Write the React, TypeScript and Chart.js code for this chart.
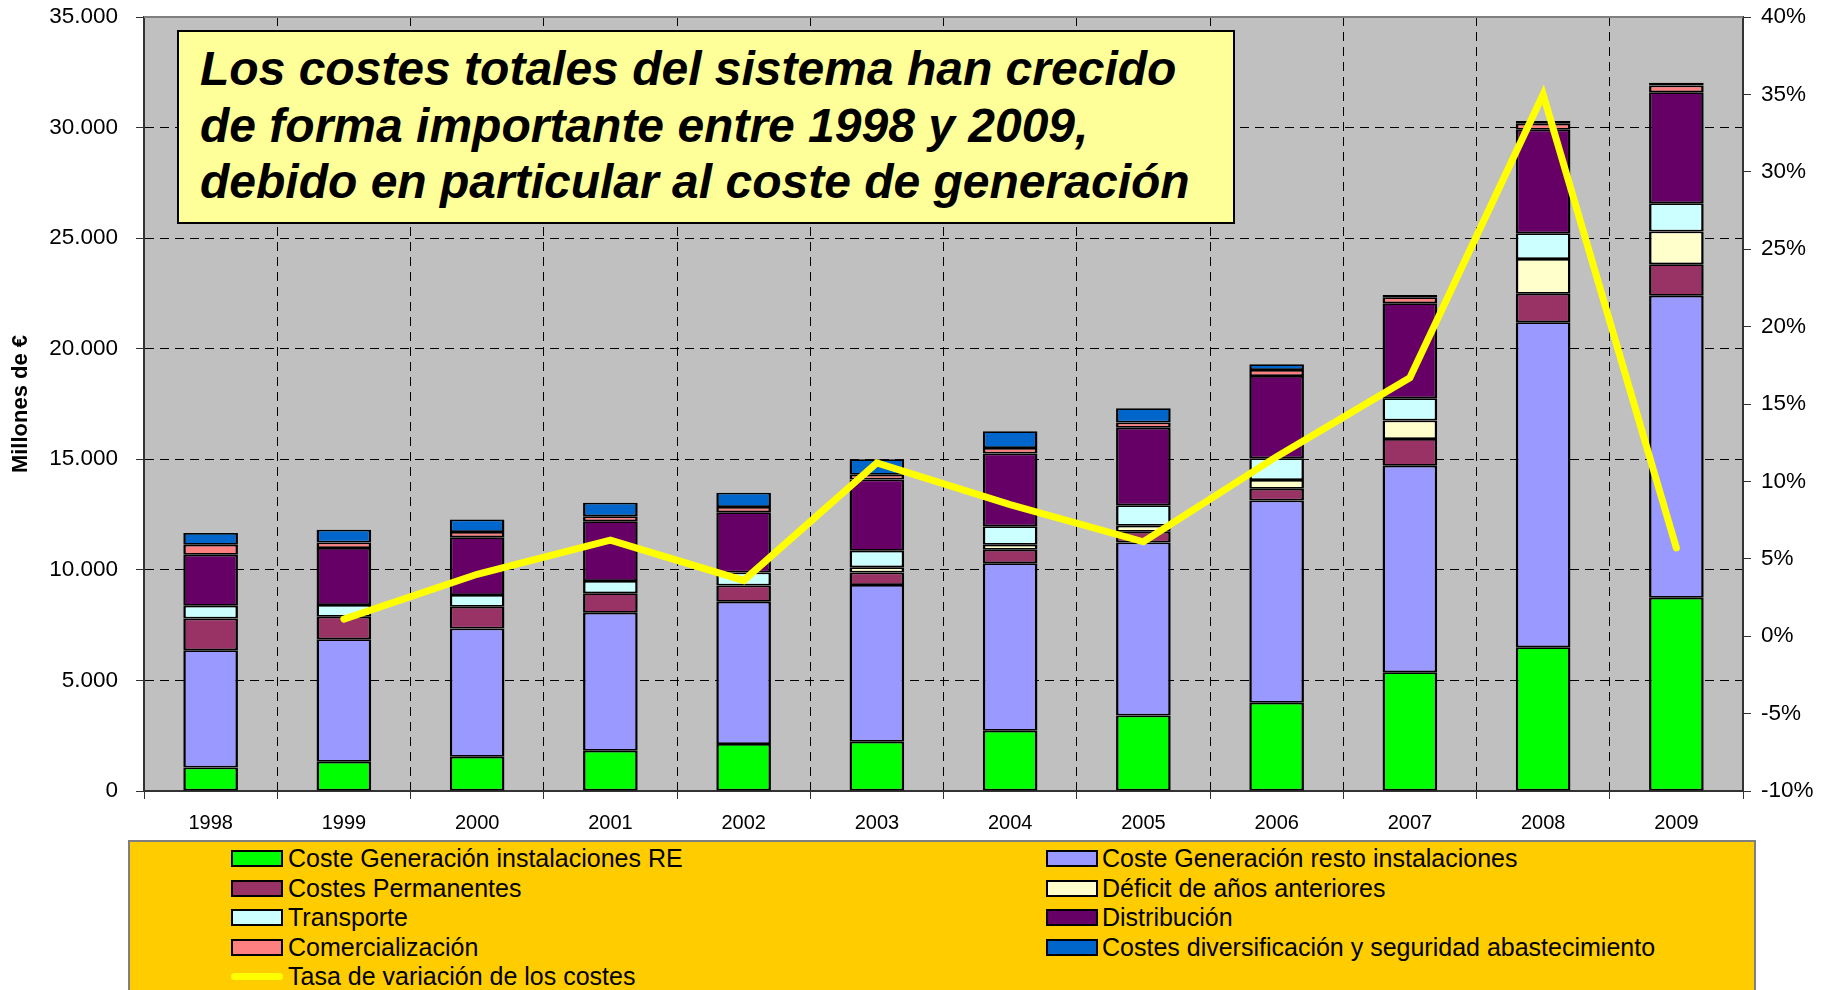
import React, { useEffect, useRef } from "react";
import { Chart, registerables } from "chart.js";

Chart.register(...registerables);

// ---------- data ----------
const YEARS = ["1998", "1999", "2000", "2001", "2002", "2003", "2004", "2005", "2006", "2007", "2008", "2009"];

const COSTE_GEN_RE = [1060, 1318, 1545, 1818, 2121, 2227, 2727, 3409, 3985, 5370, 6500, 8740];
const COSTE_GEN_RESTO = [5304, 5546, 5803, 6243, 6440, 7091, 7576, 7833, 9151, 9340, 14700, 13650];
const COSTES_PERMANENTES = [1439, 1015, 985, 878, 727, 561, 606, 485, 531, 1210, 1280, 1430];
const DEFICIT_ANTERIORES = [0, 0, 0, 0, 0, 242, 227, 273, 394, 830, 1580, 1480];
const TRANSPORTE = [576, 530, 531, 561, 591, 743, 834, 924, 984, 1010, 1160, 1280];
const DISTRIBUCION = [2303, 2576, 2606, 2697, 2727, 3227, 3288, 3500, 3725, 4300, 4680, 5020];
const COMERCIALIZACION = [454, 257, 242, 227, 242, 212, 257, 243, 270, 270, 270, 300];
const DIVERSIFICACION = [531, 576, 561, 606, 637, 697, 758, 636, 260, 100, 130, 130];
const TASA_VARIACION: (number | null)[] = [null, 1.1, 4.0, 6.2, 3.6, 11.2, 8.5, 6.1, 11.6, 16.7, 35.0, 5.7];

const LEFT_AXIS = { min: 0, max: 35000, step: 5000 };
const RIGHT_AXIS = { min: -10, max: 40, step: 5 };

const TITLE_LINES = [
  "Los costes totales del sistema han crecido",
  "de forma importante entre 1998 y 2009,",
  "debido en particular al coste de generación",
];

// ---------- styles ----------
const FONT = 'Arial, "Liberation Sans", sans-serif';

const BAR_SERIES = [
  { label: "Coste Generación instalaciones RE", data: COSTE_GEN_RE, color: "#00FF00" },
  { label: "Coste Generación resto instalaciones", data: COSTE_GEN_RESTO, color: "#9999FF" },
  { label: "Costes Permanentes", data: COSTES_PERMANENTES, color: "#993366" },
  { label: "Déficit de años anteriores", data: DEFICIT_ANTERIORES, color: "#FFFFCC" },
  { label: "Transporte", data: TRANSPORTE, color: "#CCFFFF" },
  { label: "Distribución", data: DISTRIBUCION, color: "#660066" },
  { label: "Comercialización", data: COMERCIALIZACION, color: "#FF8080" },
  { label: "Costes diversificación y seguridad abastecimiento", data: DIVERSIFICACION, color: "#0066CC" },
];
const LINE_LABEL = "Tasa de variación de los costes";
const LINE_COLOR = "#FFFF00";

// legend layout: [column, row, seriesIndex or -1 for line]
const LEGEND_LAYOUT: [number, number, number][] = [
  [0, 0, 0],
  [1, 0, 1],
  [0, 1, 2],
  [1, 1, 3],
  [0, 2, 4],
  [1, 2, 5],
  [0, 3, 6],
  [1, 3, 7],
  [0, 4, -1],
];

const fmtThousands = (v: number) => {
  const s = Math.round(v).toString();
  return s.replace(/\B(?=(\d{3})+(?!\d))/g, ".");
};

const plotDecor = {
  id: "plotDecor",
  beforeDraw(chart: any) {
    const { ctx, chartArea: a } = chart;
    ctx.save();
    ctx.fillStyle = "#C0C0C0";
    ctx.fillRect(a.left, a.top, a.right - a.left, a.bottom - a.top);
    ctx.restore();
  },
  beforeDatasetsDraw(chart: any) {
    const { ctx, chartArea: a } = chart;
    ctx.save();
    ctx.strokeStyle = "#808080";
    ctx.lineWidth = 2;
    ctx.beginPath();
    ctx.moveTo(a.left, a.top);
    ctx.lineTo(a.right, a.top);
    ctx.stroke();
    ctx.restore();
  },
};

export default function App() {
  const canvasRef = useRef<HTMLCanvasElement | null>(null);

  useEffect(() => {
    if (!canvasRef.current) return;
    const datasets: any[] = BAR_SERIES.map((s) => ({
      type: "bar",
      label: s.label,
      data: s.data,
      backgroundColor: s.color,
      borderColor: "#000000",
      borderWidth: { left: 2.5, right: 2.5, top: 1.75, bottom: 1.75 },
      borderSkipped: false,
      barPercentage: 0.41,
      categoryPercentage: 1.0,
      yAxisID: "y",
      order: 1,
    }));
    datasets.push({
      type: "line",
      label: LINE_LABEL,
      data: TASA_VARIACION,
      borderColor: LINE_COLOR,
      backgroundColor: LINE_COLOR,
      borderWidth: 7,
      borderCapStyle: "round",
      borderJoinStyle: "miter",
      pointRadius: 0,
      tension: 0,
      spanGaps: true,
      yAxisID: "y1",
      order: 0,
    });

    const chart = new Chart(canvasRef.current, {
      type: "bar",
      data: { labels: YEARS, datasets },
      plugins: [plotDecor],
      options: {
        animation: false,
        responsive: false,
        devicePixelRatio: 1,
        layout: { padding: { top: 17, left: 0, right: 0, bottom: 0 } },
        plugins: { legend: { display: false }, tooltip: { enabled: false } },
        scales: {
          x: {
            stacked: true,
            offset: true,
            grid: { offset: true, color: "#000000", lineWidth: 1, tickLength: 8, tickColor: "#333333" },
            border: { dash: [9, 6], color: "#333333", width: 2 },
            ticks: { color: "#000", font: { family: FONT, size: 20 }, padding: 12, maxRotation: 0 },
            afterFit: (s: any) => {
              s.height = 199;
              s.paddingLeft = 0;
              s.paddingRight = 0;
            },
          },
          y: {
            type: "linear",
            position: "left",
            stacked: true,
            min: LEFT_AXIS.min,
            max: LEFT_AXIS.max,
            ticks: {
              stepSize: LEFT_AXIS.step,
              color: "#000",
              font: { family: FONT, size: 22.5 },
              padding: 18,
              callback: (v: any) => fmtThousands(Number(v)),
            },
            grid: {
              color: (c: any) => (c.tick && c.tick.value === LEFT_AXIS.max ? "rgba(0,0,0,0)" : "#000000"),
              lineWidth: 1,
              tickLength: 8,
              tickColor: "#333333",
            },
            border: { dash: [9, 6], color: "#333333", width: 2 },
            title: {
              display: true,
              text: "Millones de €",
              color: "#000",
              font: { family: FONT, size: 22, weight: "bold" },
              padding: { top: 8, bottom: 0 },
            },
            afterFit: (s: any) => {
              s.width = 144;
              s.paddingTop = 0;
              s.paddingBottom = 0;
            },
          },
          y1: {
            type: "linear",
            position: "right",
            stacked: false,
            min: RIGHT_AXIS.min,
            max: RIGHT_AXIS.max,
            ticks: {
              stepSize: RIGHT_AXIS.step,
              color: "#000",
              font: { family: FONT, size: 22.5 },
              padding: 10,
              callback: (v: any) => `${v}%`,
            },
            grid: { drawOnChartArea: false, tickLength: 8, tickColor: "#333333" },
            border: { color: "#333333", width: 2 },
            afterFit: (s: any) => {
              s.width = 86;
              s.paddingTop = 0;
              s.paddingBottom = 0;
            },
          },
        },
      } as any,
    });
    return () => chart.destroy();
  }, []);

  const rowCenter = (r: number) => 858 + r * 29.6;
  const colSwatch = [231, 1046];
  const colText = [288, 1102];

  return (
    <div
      style={{
        position: "absolute",
        left: 0,
        top: 0,
        width: 1829,
        height: 990,
        overflow: "hidden",
        background: "#ffffff",
        fontFamily: FONT,
      }}
    >
      <canvas ref={canvasRef} width={1829} height={990} style={{ display: "block", width: 1829, height: 990 }} />

      {/* annotation box */}
      <div
        style={{
          position: "absolute",
          left: 177,
          top: 30,
          width: 1058,
          height: 194,
          boxSizing: "border-box",
          background: "#FFFF99",
          border: "2px solid #000",
          paddingLeft: 21,
          paddingTop: 9,
          fontWeight: "bold",
          fontStyle: "italic",
          fontSize: 48,
          lineHeight: "56.6px",
          color: "#000",
          whiteSpace: "nowrap",
        }}
      >
        {TITLE_LINES.map((t, i) => (
          <div key={i}>{t}</div>
        ))}
      </div>

      {/* legend */}
      <div
        style={{
          position: "absolute",
          left: 128,
          top: 840,
          width: 1628,
          height: 170,
          boxSizing: "border-box",
          background: "#FFCC00",
          border: "2px solid #808080",
        }}
      />
      {LEGEND_LAYOUT.map(([col, row, idx]) => {
        const cy = rowCenter(row);
        const isLine = idx < 0;
        const label = isLine ? LINE_LABEL : BAR_SERIES[idx].label;
        return (
          <React.Fragment key={`${col}-${row}`}>
            {isLine ? (
              <div
                style={{
                  position: "absolute",
                  left: colSwatch[col],
                  top: cy - 3.5,
                  width: 52,
                  height: 7,
                  borderRadius: 3.5,
                  background: LINE_COLOR,
                }}
              />
            ) : (
              <div
                style={{
                  position: "absolute",
                  left: colSwatch[col],
                  top: cy - 8,
                  width: 52,
                  height: 17,
                  boxSizing: "border-box",
                  border: "2px solid #000",
                  background: BAR_SERIES[idx].color,
                }}
              />
            )}
            <div
              style={{
                position: "absolute",
                left: colText[col],
                top: cy - 15,
                height: 30,
                lineHeight: "30px",
                fontSize: 25,
                color: "#000",
                whiteSpace: "nowrap",
              }}
            >
              {label}
            </div>
          </React.Fragment>
        );
      })}
    </div>
  );
}
